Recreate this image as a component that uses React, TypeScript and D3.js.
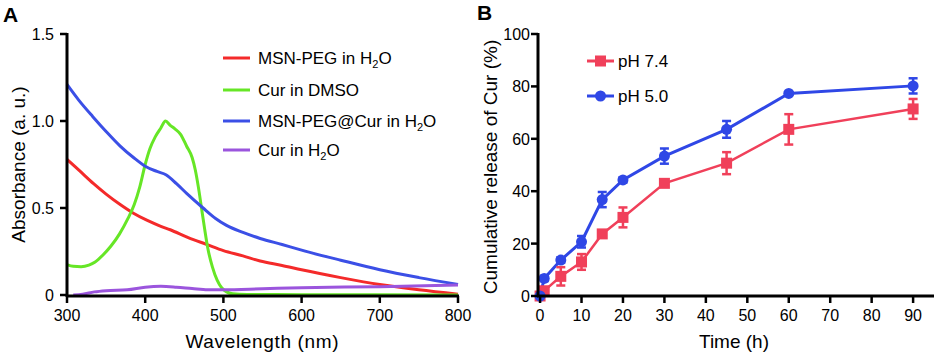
import React from "react";
import * as d3 from "d3";

// ---------- Panel A data (wavelength nm, absorbance) ----------
const msnPegH2O: [number, number][] = [
  [300, 0.78], [317, 0.71], [334, 0.64], [350, 0.58], [368, 0.52], [385, 0.47], [402, 0.43],
  [420, 0.395], [432, 0.375], [455, 0.33], [479, 0.29], [500, 0.255], [525, 0.225], [547, 0.195],
  [575, 0.17], [600, 0.145], [650, 0.1], [700, 0.06], [750, 0.03], [800, 0.005],
];
const curDMSO: [number, number][] = [
  [300, 0.175], [308, 0.165], [318, 0.163], [328, 0.172], [336, 0.19], [346, 0.23], [356, 0.28],
  [367, 0.35], [378, 0.44], [386, 0.52], [393, 0.62], [400, 0.75], [406, 0.84], [413, 0.91],
  [420, 0.96], [426, 1.0], [432, 0.975], [438, 0.955], [445, 0.925], [453, 0.855], [460, 0.79],
  [464, 0.72], [468, 0.62], [472, 0.5], [476, 0.38], [480, 0.27], [486, 0.16], [492, 0.085],
  [498, 0.04], [504, 0.018], [512, 0.007], [530, 0.003], [600, 0.002], [800, 0.0],
];
const msnPegCurH2O: [number, number][] = [
  [300, 1.21], [315, 1.12], [333, 1.025], [350, 0.94], [368, 0.856], [385, 0.79], [400, 0.74],
  [415, 0.71], [427, 0.69], [440, 0.64], [453, 0.584], [474, 0.5], [490, 0.44], [504, 0.4],
  [525, 0.36], [547, 0.325], [575, 0.29], [600, 0.258], [650, 0.2], [700, 0.145], [750, 0.1],
  [800, 0.06],
];
const curH2O: [number, number][] = [
  [308, 0.0], [320, 0.005], [335, 0.018], [350, 0.025], [377, 0.03], [400, 0.045], [420, 0.05],
  [440, 0.045], [460, 0.037], [480, 0.03], [500, 0.03], [550, 0.036], [600, 0.042], [700, 0.048],
  [800, 0.058],
];
const seriesA = [
  { name: "MSN-PEG in H", sub: "2", tail: "O", color: "#f42a2a", data: msnPegH2O },
  { name: "Cur in DMSO", sub: "", tail: "", color: "#66e626", data: curDMSO },
  { name: "MSN-PEG@Cur  in H", sub: "2", tail: "O", color: "#3b4fe6", data: msnPegCurH2O },
  { name: "Cur in H", sub: "2", tail: "O", color: "#9b55dd", data: curH2O },
];
const ticksAx = [300, 400, 500, 600, 700, 800];
const ticksAy = [0, 0.5, 1.0, 1.5];
const tickLabelsAy = ["0", "0.5", "1.0", "1.5"];

// ---------- Panel B data ----------
const times = [0, 1, 5, 10, 15, 20, 30, 45, 60, 90];
const ph74 = [0, 2, 7.5, 13, 23.7, 30, 43, 50.7, 63.6, 71.4];
const ph74err = [0, 1, 3.5, 3, 1, 3.8, 1, 4.2, 5.8, 3.8];
const ph50 = [0, 6.7, 13.7, 20.7, 36.8, 44.3, 53.4, 63.6, 77.3, 80.2];
const ph50err = [0, 1, 1, 2.2, 2.9, 1, 2.9, 3.2, 0, 2.9];
const ticksBx = [0, 10, 20, 30, 40, 50, 60, 70, 80, 90];
const ticksBy = [0, 20, 40, 60, 80, 100];

const FONT = "'Liberation Sans', Arial, Helvetica, sans-serif";

export default function App() {
  // Panel A scales
  const xA = d3.scaleLinear().domain([300, 800]).range([67, 458]);
  const yA = d3.scaleLinear().domain([0, 1.5]).range([295, 34]);
  const lineA = d3
    .line<[number, number]>()
    .x((d) => xA(d[0]))
    .y((d) => yA(d[1]))
    .curve(d3.curveMonotoneX);

  // Panel B scales
  const xB = d3.scaleLinear().domain([-0.5, 94.8]).range([538, 933]);
  const yB = d3.scaleLinear().domain([0, 100]).range([296, 34]);
  const lineB = d3
    .line<number>()
    .x((_, i) => xB(times[i]))
    .y((d) => yB(d));

  const redB = "#f0405a";
  const blueB = "#2f47e6";

  const errBars = (vals: number[], errs: number[], color: string) =>
    vals.map((v, i) =>
      errs[i] > 0 ? (
        <g key={i} stroke={color} strokeWidth={2.5}>
          <line x1={xB(times[i])} x2={xB(times[i])} y1={yB(v - errs[i])} y2={yB(v + errs[i])} />
          <line x1={xB(times[i]) - 4.5} x2={xB(times[i]) + 4.5} y1={yB(v - errs[i])} y2={yB(v - errs[i])} />
          <line x1={xB(times[i]) - 4.5} x2={xB(times[i]) + 4.5} y1={yB(v + errs[i])} y2={yB(v + errs[i])} />
        </g>
      ) : null
    );

  return (
    <svg
      width={938}
      height={357}
      style={{ position: "absolute", left: 0, top: 0, background: "#fff" }}
      fontFamily={FONT}
    >
      <rect width={938} height={357} fill="#fff" />
      {/* ===== Panel A ===== */}
      <text x={3} y={22} fontSize={21} fontWeight="bold">A</text>
      {seriesA.map((s) => (
        <path key={s.name} d={lineA(s.data) || ""} fill="none" stroke={s.color} strokeWidth={3} />
      ))}
      {/* axes A */}
      <line x1={67} x2={67} y1={33} y2={297} stroke="#000" strokeWidth={3} />
      <line x1={66} x2={459} y1={296} y2={296} stroke="#000" strokeWidth={3} />
      {ticksAy.map((t, i) => (
        <g key={t}>
          <line x1={60} x2={67} y1={yA(t)} y2={yA(t)} stroke="#000" strokeWidth={2.5} />
          <text x={54} y={yA(t) + 6} fontSize={16} textAnchor="end">{tickLabelsAy[i]}</text>
        </g>
      ))}
      {ticksAx.map((t) => (
        <g key={t}>
          <line x1={xA(t)} x2={xA(t)} y1={296} y2={303} stroke="#000" strokeWidth={2.5} />
          <text x={xA(t)} y={321} fontSize={16} textAnchor="middle">{t}</text>
        </g>
      ))}
      <text x={262} y={348} fontSize={19} textAnchor="middle" textLength={153}>Wavelength (nm)</text>
      <text
        transform={`translate(25,${(34 + 295) / 2}) rotate(-90)`}
        fontSize={19}
        textAnchor="middle"
      >
        Absorbance (a. u.)
      </text>
      {/* legend A */}
      {seriesA.map((s, i) => {
        const y = [58, 90, 121, 150][i];
        return (
          <g key={s.name}>
            <line x1={223} x2={250} y1={y} y2={y} stroke={s.color} strokeWidth={3} />
            <text x={258} y={y + 6} fontSize={17}>
              {s.name}
              {s.sub ? (
                <tspan fontSize={11} dy={4}>{s.sub}</tspan>
              ) : null}
              {s.tail ? <tspan dy={s.sub ? -4 : 0}>{s.tail}</tspan> : null}
            </text>
          </g>
        );
      })}

      {/* ===== Panel B ===== */}
      <text x={477} y={20} fontSize={21} fontWeight="bold">B</text>
      <path d={lineB(ph74) || ""} fill="none" stroke={redB} strokeWidth={2.5} />
      <path d={lineB(ph50) || ""} fill="none" stroke={blueB} strokeWidth={3} />
      {errBars(ph74, ph74err, redB)}
      {errBars(ph50, ph50err, blueB)}
      {ph74.map((v, i) => (
        <rect key={i} x={xB(times[i]) - 5.5} y={yB(v) - 5.5} width={11} height={11} fill={redB} />
      ))}
      {ph50.map((v, i) => (
        <circle key={i} cx={xB(times[i])} cy={yB(v)} r={5.5} fill={blueB} />
      ))}
      {/* axes B */}
      <line x1={538} x2={538} y1={33} y2={297} stroke="#000" strokeWidth={3} />
      <line x1={537} x2={934} y1={296} y2={296} stroke="#000" strokeWidth={3} />
      {ticksBy.map((t) => (
        <g key={t}>
          <line x1={531} x2={538} y1={yB(t)} y2={yB(t)} stroke="#000" strokeWidth={2.5} />
          <text x={530} y={yB(t) + 6} fontSize={16} textAnchor="end">{t}</text>
        </g>
      ))}
      {ticksBx.map((t) => (
        <g key={t}>
          <line x1={xB(t)} x2={xB(t)} y1={296} y2={303} stroke="#000" strokeWidth={2.5} />
          <text x={xB(t)} y={321} fontSize={16} textAnchor="middle">{t}</text>
        </g>
      ))}
      <text x={734} y={348} fontSize={19} textAnchor="middle">Time (h)</text>
      <text
        transform={`translate(497,167) rotate(-90)`}
        fontSize={19}
        textAnchor="middle"
      >
        Cumulative release of Cur (%)
      </text>
      {/* legend B */}
      <line x1={587} x2={614} y1={61} y2={61} stroke={redB} strokeWidth={3} />
      <rect x={595} y={55.5} width={11} height={11} fill={redB} />
      <text x={618} y={67} fontSize={17}>pH 7.4</text>
      <line x1={587} x2={614} y1={96} y2={96} stroke={blueB} strokeWidth={3} />
      <circle cx={600.5} cy={96} r={5.5} fill={blueB} />
      <text x={618} y={102} fontSize={17}>pH 5.0</text>
    </svg>
  );
}
